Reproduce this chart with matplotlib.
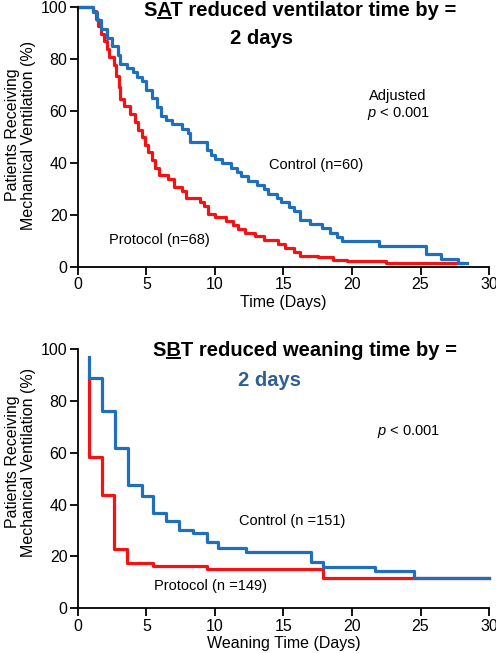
import matplotlib
matplotlib.use("Agg")
import matplotlib.pyplot as plt
from matplotlib.lines import Line2D

plt.rcParams['font.family'] = ['Liberation Sans', 'DejaVu Sans']
plt.rcParams['mathtext.fontset'] = 'custom'
plt.rcParams['mathtext.rm'] = 'Liberation Sans'
plt.rcParams['mathtext.it'] = 'Liberation Sans:italic'
plt.rcParams['mathtext.bf'] = 'Liberation Sans:bold'

BLUE = "#1f6fbd"
RED = "#f21414"

# ---- Top panel (SAT) ----
sat_control_t = [0, 1.1, 1.4, 1.7, 2.1, 2.5, 2.9, 3.1, 3.6, 4.0, 4.3, 4.7, 5.0, 5.4, 5.8, 6.1, 6.4,
                 6.9, 7.6, 8.0, 8.2, 9.0, 9.4, 9.7, 10.0, 10.5, 11.2, 11.6, 11.9, 12.4, 13.1, 13.6,
                 13.9, 14.5, 14.8, 15.4, 15.8, 16.2, 16.9, 17.8, 18.4, 18.9, 19.3, 22.0, 25.0, 25.4,
                 26.5, 27.7, 28.4]
sat_control_p = [100, 98.3, 95, 91.7, 88.3, 85, 81.7, 78.3, 76.7, 75, 73.3, 71.7, 68.3, 65, 61.7, 58.3,
                 56.7, 55, 53.3, 51.7, 48.3, 48.3, 45, 43.3, 41.7, 40, 38.3, 36.7, 35, 33.3, 31.7, 30,
                 28.3, 26.7, 25, 23.3, 21.7, 18.3, 16.7, 15, 13.3, 11.7, 10, 8.3, 8.3, 5,
                 3.3, 1.7, 1.7]
sat_protocol_t = [0, 1.1, 1.3, 1.5, 1.7, 1.9, 2.1, 2.3, 2.6, 2.8, 3.0, 3.1, 3.4, 3.8, 4.2, 4.4, 4.7,
                  4.9, 5.1, 5.4, 5.6, 5.9, 6.6, 7.0, 7.6, 7.9, 8.9, 9.2, 9.5, 10.0, 10.8, 11.3, 11.7,
                  12.2, 12.9, 13.6, 14.6, 15.1, 15.8, 16.2, 17.5, 18.6, 19.6, 22.5, 28.0]
sat_protocol_p = [100, 98.5, 95.6, 92.6, 89.7, 86.8, 83.8, 80.9, 77.9, 73.5, 69.1, 64.7, 61.8, 58.8,
                  55.9, 52.9, 50, 47.1, 44.1, 41.2, 38.2, 35.3, 33.8, 30.9, 29.4, 26.5, 25, 23.5,
                  20.6, 19.1, 17.6, 16.2, 14.7, 13.2, 11.8, 10.3, 8.8, 7.4, 5.9, 4.4, 3.7, 2.9, 2.2,
                  1.5, 1.5]

# ---- Bottom panel (SBT) ----
sbt_control_t = [0.8, 0.8, 1.73, 2.7, 3.65, 4.7, 5.5, 6.45, 7.4, 8.4, 9.4, 10.2, 12.25, 17.0, 17.9,
                 21.7, 24.5, 30]
sbt_control_p = [96.9, 88.8, 76.2, 61.8, 47.5, 43.4, 36.6, 33.7, 30.2, 29.2, 25.7, 23.3, 21.8, 17.7,
                 16.0, 14.4, 11.8, 11.8]
sbt_protocol_t = [0.8, 0.8, 1.73, 2.65, 3.6, 5.5, 9.4, 17.85, 30]
sbt_protocol_p = [88.8, 58.2, 43.7, 23.0, 17.4, 16.3, 15.2, 11.5, 11.5]

xticks = [0, 5, 10, 15, 20, 25, 30]
yticks = [0, 20, 40, 60, 80, 100]
YLABEL = "Patients Receiving\nMechanical Ventilation (%)"

fig = plt.figure(figsize=(4.96, 6.53), dpi=100)
ax1 = fig.add_axes([0.157, 0.591, 0.829, 0.398])
ax2 = fig.add_axes([0.157, 0.0685, 0.829, 0.397])

def px(x, y):
    return (x / 496.0, 1 - y / 653.0)

for ax, ycen in ((ax1, 135), (ax2, 462)):
    ax.set_xlim(0, 30)
    ax.set_ylim(0, 100)
    ax.set_xticks(xticks)
    ax.set_yticks(yticks)
    for s in ("top", "right"):
        ax.spines[s].set_visible(False)
    for s in ("left", "bottom"):
        ax.spines[s].set_linewidth(1.3)
    ax.tick_params(direction="out", length=6, width=1.3, labelsize=11.5, pad=1.5)
    ax.set_ylabel(YLABEL, fontsize=11.5, linespacing=1.1)
    ax.yaxis.set_label_coords(*px(36, ycen), transform=fig.transFigure)

ax1.step(sat_protocol_t, sat_protocol_p, where="post", color=RED, lw=2.3, clip_on=False)
ax1.step(sat_control_t, sat_control_p, where="post", color=BLUE, lw=2.3, clip_on=False)
ax1.set_xlabel("Time (Days)", fontsize=11.5, labelpad=1.5)

ax2.step(sbt_protocol_t, sbt_protocol_p, where="post", color=RED, lw=2.3, clip_on=False)
ax2.step(sbt_control_t, sbt_control_p, where="post", color=BLUE, lw=2.3, clip_on=False)
ax2.set_xlabel("Weaning Time (Days)", fontsize=11.5, labelpad=1.5)

TITLE_FS = 14.5
t1 = fig.text(*px(300, 11), "SAT reduced ventilator time by =", fontsize=TITLE_FS,
              fontweight="bold", ha="center", va="center")
fig.text(*px(261, 38), "2 days", fontsize=TITLE_FS, fontweight="bold", ha="center", va="center")
fig.text(*px(398, 96), "Adjusted", fontsize=10.5, ha="center", va="center")
fig.text(*px(398, 113), r"$\it{p}$ < 0.001", fontsize=10.5, ha="center", va="center")
fig.text(*px(316, 165), "Control (n=60)", fontsize=10.5, ha="center", va="center")
fig.text(*px(159, 240), "Protocol (n=68)", fontsize=10.5, ha="center", va="center")

t2 = fig.text(*px(305, 351), "SBT reduced weaning time by =", fontsize=TITLE_FS,
              fontweight="bold", ha="center", va="center")
fig.text(*px(269, 380), "2 days", fontsize=TITLE_FS, fontweight="bold", ha="center", va="center",
         color="#2e5f95")
fig.text(*px(408, 431), r"$\it{p}$ < 0.001", fontsize=10.5, ha="center", va="center")
fig.text(*px(292, 521), "Control (n =151)", fontsize=10.5, ha="center", va="center")
fig.text(*px(211, 586), "Protocol (n =149)", fontsize=10.5, ha="center", va="center")

# underline second letter of each title
fig.canvas.draw()
renderer = fig.canvas.get_renderer()
W, H = fig.bbox.width, fig.bbox.height

def underline_second(txt):
    bb = txt.get_window_extent(renderer)
    s = txt.get_text()
    tmp1 = fig.text(0, 0, s[:1], fontsize=TITLE_FS, fontweight="bold")
    tmp2 = fig.text(0, 0, s[:2], fontsize=TITLE_FS, fontweight="bold")
    w1 = tmp1.get_window_extent(renderer).width
    w2 = tmp2.get_window_extent(renderer).width
    tmp1.remove()
    tmp2.remove()
    x0 = bb.x0 + w1 + 0.5
    x1 = bb.x0 + w2 - 0.5
    y = bb.y0 + 3.0
    fig.add_artist(Line2D([x0 / W, x1 / W], [y / H, y / H], transform=fig.transFigure,
                          color="black", lw=1.4))

underline_second(t1)
underline_second(t2)

fig.savefig("out.png", dpi=100)
